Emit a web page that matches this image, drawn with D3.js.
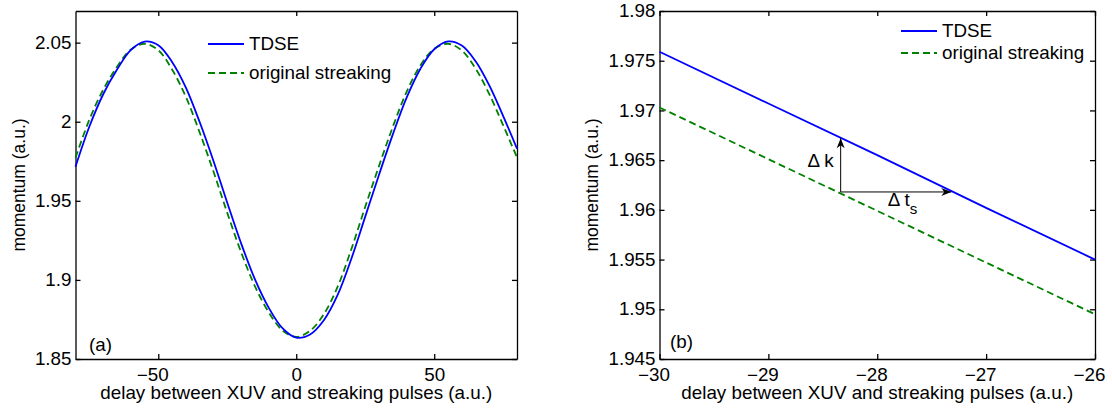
<!DOCTYPE html>
<html>
<head>
<meta charset="utf-8">
<script src="https://cdn.jsdelivr.net/npm/d3@7"></script>
<style>
    body { margin: 0; background: #fff; }
    text { font-family: 'Liberation Sans', Arial, sans-serif; font-size: 17.5px; fill: #000; }
</style>
</head>
<body>
<svg id="fig" width="1112" height="409"></svg>
<script>
'use strict';

// (a) momentum vs delay over the whole scan
const delayA = [-80, -75, -70, -65, -60, -55, -50, -45, -40, -35, -30, -25, -20,
    -15, -10, -5, 0, 5, 10, 15, 20, 25, 30, 35, 40, 45, 50, 55, 60, 65, 70, 75, 80];
const tdseA = [1.9715, 1.9968, 2.0172, 2.0328, 2.0453, 2.0507, 2.0484, 2.0378,
    2.0216, 1.9998, 1.9752, 1.9488, 1.9232, 1.9005, 1.8825, 1.8695, 1.8635,
    1.8655, 1.8745, 1.8905, 1.9135, 1.9400, 1.9665, 1.9920, 2.0152, 2.0335,
    2.0458, 2.0508, 2.0482, 2.0382, 2.0228, 2.0035, 1.9830];
const streakA = [1.9772, 2.0012, 2.0201, 2.0346, 2.0456, 2.0493, 2.0452, 2.0330,
    2.0157, 1.9932, 1.9685, 1.9424, 1.9176, 1.8961, 1.8796, 1.8681, 1.8640,
    1.8678, 1.8783, 1.8957, 1.9196, 1.9462, 1.9721, 1.9968, 2.0189, 2.0356,
    2.0461, 2.0493, 2.0450, 2.0336, 2.0173, 1.9977, 1.9774];

// (b) close-up around -28 a.u.
const delayB = [-30, -29, -28, -27, -26];
const tdseB = [1.9759, 1.9707, 1.9655, 1.9602, 1.9550];
const streakB = [1.9703, 1.9651, 1.9599, 1.9547, 1.9495];

// arrows in (b): from the streaking line up / right to the TDSE line
const arrowStart = [-28.336, 1.9618];
const arrowUpEnd = 1.9672;
const arrowRightEnd = -27.32;

const ticksAx = [-50, 0, 50];
const ticksAy = [1.85, 1.9, 1.95, 2, 2.05];
const ticksBx = [-30, -29, -28, -27, -26];
const ticksBy = [1.945, 1.95, 1.955, 1.96, 1.965, 1.97, 1.975, 1.98];

const seriesNames = ['TDSE', 'original streaking'];
const xTitle = 'delay between XUV and streaking pulses (a.u.)';
const yTitle = 'momentum (a.u.)';

const SX = 1.075; // lettering in the original is a little wider than tall
const svg = d3.select('#fig');

let fmt = function(d) {
    return String(+d.toFixed(3)).replace('-', '\u2212');
};

let stretch = function(sel) {
    sel.each(function() {
        let t = d3.select(this);
        let x = +t.attr('x') || 0;
        let y = +t.attr('y') || 0;
        t.attr('x', null).attr('y', null)
            .attr('transform', 'translate(' + x + ',' + y + ') scale(' + SX + ',1)');
    });
};

let label = function(parent, x, y, str, anchor) {
    return parent.append('text')
        .attr('transform', 'translate(' + x + ',' + y + ') scale(' + SX + ',1)')
        .attr('text-anchor', anchor || 'start')
        .text(str);
};

svg.append('defs').append('marker')
    .attr('id', 'head')
    .attr('viewBox', '-11 -5 12 10')
    .attr('refX', 0).attr('refY', 0)
    .attr('markerUnits', 'userSpaceOnUse')
    .attr('markerWidth', 12).attr('markerHeight', 10)
    .attr('orient', 'auto')
    .append('path')
    .attr('d', 'M0,0L-10,-4L-7,0L-10,4Z')
    .attr('fill', '#000');

function panel(o) {
    let x = d3.scaleLinear().domain(o.xDomain).range([o.left, o.right]);
    let y = d3.scaleLinear().domain(o.yDomain).range([o.bottom, o.top]);
    let g = svg.append('g');

    let bottom = g.append('g')
        .attr('transform', 'translate(0,' + o.bottom + ')')
        .call(d3.axisBottom(x).tickValues(o.xTicks).tickSizeInner(-5)
            .tickSizeOuter(0).tickPadding(9.5).tickFormat(fmt));
    bottom.selectAll('.tick text')
        .attr('dx', function(d) { return d < 0 ? '-0.32em' : 0; });
    stretch(bottom.selectAll('.tick text'));

    g.append('g')
        .attr('transform', 'translate(0,' + o.top + ')')
        .call(d3.axisTop(x).tickValues(o.xTicks).tickSizeInner(-5)
            .tickSizeOuter(0).tickFormat(''));

    let left = g.append('g')
        .attr('transform', 'translate(' + o.left + ',0)')
        .call(d3.axisLeft(y).tickValues(o.yTicks).tickSizeInner(-5)
            .tickSizeOuter(0).tickPadding(4).tickFormat(fmt));
    stretch(left.selectAll('.tick text'));

    g.append('g')
        .attr('transform', 'translate(' + o.right + ',0)')
        .call(d3.axisRight(y).tickValues(o.yTicks).tickSizeInner(-5)
            .tickSizeOuter(0).tickFormat(''));

    g.selectAll('.domain, .tick line')
        .attr('stroke', '#000').attr('stroke-width', 1.3);

    let line = d3.line()
        .x(function(d) { return x(d[0]); })
        .y(function(d) { return y(d[1]); })
        .curve(o.curve);

    g.append('path')
        .datum(d3.zip(o.delay, o.streak))
        .attr('fill', 'none')
        .attr('stroke', '#008000')
        .attr('stroke-width', 1.8)
        .attr('stroke-dasharray', '7,4')
        .attr('d', line);

    g.append('path')
        .datum(d3.zip(o.delay, o.tdse))
        .attr('fill', 'none')
        .attr('stroke', '#0000ff')
        .attr('stroke-width', 1.8)
        .attr('d', line);

    // legend, no box
    let leg = g.append('g');
    seriesNames.forEach(function(name, i) {
        let ly = o.legY + i * o.legStep;
        leg.append('line')
            .attr('x1', o.legX).attr('x2', o.legX + 36)
            .attr('y1', ly).attr('y2', ly)
            .attr('stroke', i === 0 ? '#0000ff' : '#008000')
            .attr('stroke-width', 1.8)
            .attr('stroke-dasharray', i === 0 ? null : '7,4');
        label(leg, o.legX + 41, ly, name).attr('dy', '0.35em');
    });

    label(g, (o.left + o.right) / 2, 399, xTitle, 'middle');
    g.append('text')
        .attr('transform', 'translate(' + o.yTitleX + ',' + (o.top + o.bottom) / 2 + ') rotate(-90)')
        .attr('text-anchor', 'middle')
        .text(yTitle);
    label(g, o.left + o.tagDx, o.tagY, o.tag);

    return {x: x, y: y, g: g};
}

panel({
    left: 75.5, right: 517, top: 11, bottom: 359,
    xDomain: [-80, 80], yDomain: [1.85, 2.07],
    xTicks: ticksAx, yTicks: ticksAy,
    delay: delayA, tdse: tdseA, streak: streakA,
    curve: d3.curveCatmullRom,
    legX: 208, legY: 44, legStep: 29,
    yTitleX: 25, tag: '(a)', tagDx: 13.5, tagY: 350.5
});

let b = panel({
    left: 659.5, right: 1095, top: 11, bottom: 359,
    xDomain: [-30, -26], yDomain: [1.945, 1.98],
    xTicks: ticksBx, yTicks: ticksBy,
    delay: delayB, tdse: tdseB, streak: streakB,
    curve: d3.curveLinear,
    legX: 901, legY: 31, legStep: 22,
    yTitleX: 598, tag: '(b)', tagDx: 10.5, tagY: 348
});

// delta k and delta t_s arrows
let ax = b.x(arrowStart[0]);
let ay = b.y(arrowStart[1]);
b.g.append('line')
    .attr('x1', ax).attr('y1', ay)
    .attr('x2', ax).attr('y2', b.y(arrowUpEnd))
    .attr('stroke', '#000').attr('stroke-width', 1)
    .attr('marker-end', 'url(#head)');
b.g.append('line')
    .attr('x1', ax).attr('y1', ay)
    .attr('x2', b.x(arrowRightEnd)).attr('y2', ay)
    .attr('stroke', '#000').attr('stroke-width', 1)
    .attr('marker-end', 'url(#head)');

label(b.g, ax - 7, b.y((arrowStart[1] + arrowUpEnd) / 2) + 2, '\u0394 k', 'end');
let ts = label(b.g, ax + 47, ay + 14, '\u0394 t');
ts.append('tspan')
    .attr('dy', '0.6em')
    .style('font-size', '14px')
    .text('s');
</script>
</body>
